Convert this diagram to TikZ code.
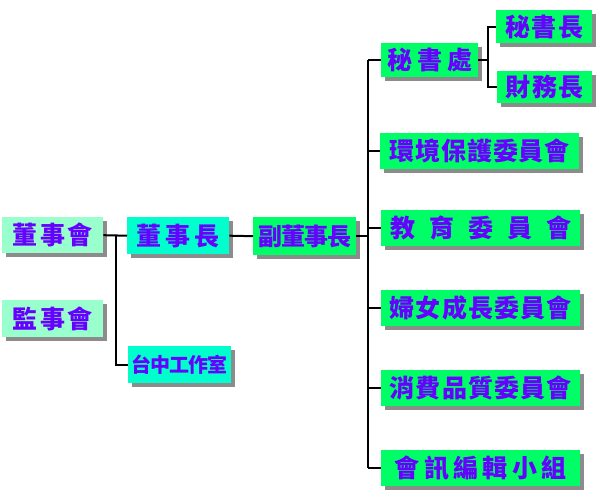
\documentclass[tikz,border=0pt]{standalone}
\usepackage{fontspec}
\newfontfamily\cjk{Noto Sans CJK TC}
\usetikzlibrary{shadows,calc}
\definecolor{mint}{RGB}{153,255,204}
\definecolor{aqua}{RGB}{0,255,204}
\definecolor{sgreen}{RGB}{0,255,102}
\definecolor{txt}{RGB}{102,0,255}
\tikzset{
  box/.style={draw=none, inner sep=0pt, anchor=north west, text=txt,
    font=\cjk\bfseries\fontsize{25}{25}\selectfont,
    drop shadow={shadow xshift=4pt, shadow yshift=-4pt, fill=black, opacity=0.45}},
  conn/.style={line width=2pt, black}
}
\begin{document}
\begin{tikzpicture}[x=1pt,y=-1pt]
\useasboundingbox (0,0) rectangle (600,500);
% left column
\node[box, fill=mint, minimum width=101pt, minimum height=36pt] (A) at (2,217) {董\kern2.5pt 事\kern2.5pt 會};
\node[box, fill=mint, minimum width=101pt, minimum height=37pt] (B) at (2,300) {監\kern2.5pt 事\kern2.5pt 會};
% second column
\node[box, fill=aqua, minimum width=102pt, minimum height=37pt] (C) at (127,217) {董\kern4pt 事\kern4pt 長};
\node[box, fill=aqua, minimum width=103pt, minimum height=37pt, font=\cjk\bfseries\fontsize{20}{20}\selectfont] (D) at (128,346) {台\kern-1pt 中\kern-1pt 工\kern-1pt 作\kern-1pt 室};
% third column
\node[box, fill=sgreen, minimum width=103pt, minimum height=38pt, font=\cjk\bfseries\fontsize{24}{24}\selectfont] (E) at (253,217) {副\kern-1pt 董\kern-1pt 事\kern-1pt 長};
% right column
\node[box, fill=sgreen, minimum width=97pt, minimum height=34pt] (F) at (381,43) {秘\kern5pt 書\kern5pt 處};
\node[box, fill=sgreen, minimum width=96pt, minimum height=33pt] (G) at (496,10) {秘\kern1.5pt 書\kern1.5pt 長};
\node[box, fill=sgreen, minimum width=95pt, minimum height=32pt] (H) at (497,71) {財\kern1.5pt 務\kern1.5pt 長};
\node[box, fill=sgreen, minimum width=199pt, minimum height=36pt] (I) at (380,133) {環\kern0.8pt 境\kern0.8pt 保\kern0.8pt 護\kern0.8pt 委\kern0.8pt 員\kern0.8pt 會};
\node[box, fill=sgreen, minimum width=199pt, minimum height=36pt] (J) at (381,210) {教\kern14pt 育\kern14pt 委\kern14pt 員\kern14pt 會};
\node[box, fill=sgreen, minimum width=199pt, minimum height=36pt] (K) at (381,290) {婦\kern1.2pt 女\kern1.2pt 成\kern1.2pt 長\kern1.2pt 委\kern1.2pt 員\kern1.2pt 會};
\node[box, fill=sgreen, minimum width=199pt, minimum height=36pt] (L) at (381,370) {消\kern1.2pt 費\kern1.2pt 品\kern1.2pt 質\kern1.2pt 委\kern1.2pt 員\kern1.2pt 會};
\node[box, fill=sgreen, minimum width=199pt, minimum height=36pt] (M) at (381,450) {會\kern4.4pt 訊\kern4.4pt 編\kern4.4pt 輯\kern4.4pt 小\kern4.4pt 組};
% connectors
\coordinate (ja) at (116,0);
\coordinate (jb) at (368,0);
\coordinate (jc) at (488,0);
\draw[conn] (A.east) -- (C.west);
\draw[conn] (ja |- A.east) -- (ja |- D.west) -- (D.west);
\draw[conn] (C.east) -- (E.west);
\draw[conn] (E.east) -- (jb |- E.east);
\draw[conn] (jb |- F.west) -- (jb |- M.west);
\draw[conn] (jb |- F.west) -- (F.west);
\draw[conn] (jb |- I.west) -- (I.west);
\draw[conn] (jb |- J.west) -- (J.west);
\draw[conn] (jb |- K.west) -- (K.west);
\draw[conn] (jb |- L.west) -- (L.west);
\draw[conn] (jb |- M.west) -- (M.west);
\draw[conn] (F.east) -- (jc |- F.east);
\draw[conn] (G.west) -- (jc |- G.west) -- (jc |- H.west) -- (H.west);
\end{tikzpicture}
\end{document}
